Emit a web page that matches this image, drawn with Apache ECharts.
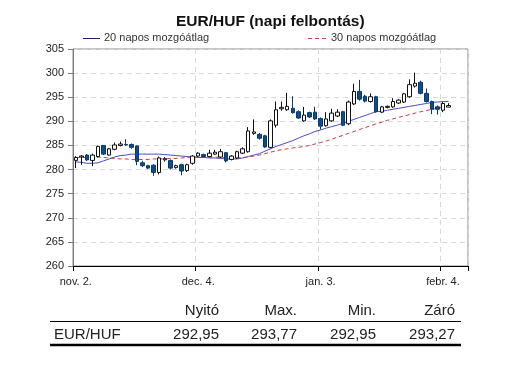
<!DOCTYPE html>
<html>
<head>
<meta charset="utf-8">
<script src="https://cdn.jsdelivr.net/npm/echarts@6/dist/echarts.min.js"></script>
<style>html,body{margin:0;padding:0;background:#fff;}#c{width:512px;height:382px;}</style>
</head>
<body>
<div id="c"></div>
<script>
// Trading days (weekdays) on the category axis, incl. empty days at the end
const dates = [
 "2012-11-02","2012-11-05","2012-11-06","2012-11-07","2012-11-08","2012-11-09",
 "2012-11-12","2012-11-13","2012-11-14","2012-11-15","2012-11-16",
 "2012-11-19","2012-11-20","2012-11-21","2012-11-22","2012-11-23",
 "2012-11-26","2012-11-27","2012-11-28","2012-11-29","2012-11-30",
 "2012-12-03","2012-12-04","2012-12-05","2012-12-06","2012-12-07",
 "2012-12-10","2012-12-11","2012-12-12","2012-12-13","2012-12-14",
 "2012-12-17","2012-12-18","2012-12-19","2012-12-20","2012-12-21",
 "2012-12-24","2012-12-25","2012-12-26","2012-12-27","2012-12-28",
 "2012-12-31","2013-01-01","2013-01-02","2013-01-03","2013-01-04",
 "2013-01-07","2013-01-08","2013-01-09","2013-01-10","2013-01-11",
 "2013-01-14","2013-01-15","2013-01-16","2013-01-17","2013-01-18",
 "2013-01-21","2013-01-22","2013-01-23","2013-01-24","2013-01-25",
 "2013-01-28","2013-01-29","2013-01-30","2013-01-31","2013-02-01",
 "2013-02-04","2013-02-05","2013-02-06","2013-02-07","2013-02-08"
];
const monthNames = ["jan.","febr.","márc.","ápr.","máj.","jún.","júl.","aug.","szept.","okt.","nov.","dec."];

const openV = [281.9,282.6,283.0,281.9,282.7,285.0,283.0,284.2,285.0,285.2,285.2,284.9,281.4,280.8,280.9,279.4,282.3,281.9,280.4,281.0,279.8,281.3,
 282.8,283.1,282.7,283.2,282.6,283.5,282.1,282.4,283.4,283.7,287.5,287.3,287.0,284.6,289.2,292.6,292.4,292.7,292.0,290.1,291.8,291.9,290.6,289.1,290.1,291.1,
 292.0,289.5,293.6,296.2,295.2,294.1,295.1,291.9,292.9,293.0,293.8,294.0,295.1,297.3,298.1,295.8,294.1,293.0,292.3,292.95];
const closeV = [282.5,282.8,282.0,283.0,284.8,283.2,284.3,285.1,285.3,285.1,284.6,281.7,280.8,280.3,279.4,282.4,282.0,280.3,280.8,279.7,281.0,282.8,
 283.4,282.7,283.4,283.6,283.7,281.8,282.8,283.7,284.3,288.0,287.8,286.5,284.7,290.1,292.4,292.9,293.1,291.8,290.7,291.3,290.9,290.5,289.0,290.5,291.7,291.9,
 289.2,294.0,296.2,294.6,294.2,295.1,292.0,293.0,293.1,294.1,294.4,295.7,297.6,297.9,295.8,294.1,292.5,292.5,293.7,293.27];
const lowV = [280.3,281.0,281.8,280.7,282.5,283.0,282.9,284.0,284.8,284.9,284.3,280.9,280.5,280.1,278.7,279.0,281.6,280.0,280.2,278.8,279.5,281.0,
 282.6,282.5,282.5,283.0,282.4,281.5,281.9,282.2,283.2,283.5,287.2,286.2,284.5,284.4,288.7,292.2,292.2,291.6,290.5,289.9,290.7,290.3,288.3,288.9,289.9,290.9,
 289.0,289.2,293.4,294.3,293.9,293.9,291.8,291.7,292.7,292.8,293.6,293.8,294.9,297.0,295.6,293.9,291.5,291.4,291.9,292.95];
const highV = [282.8,283.0,283.2,283.3,285.0,285.1,284.5,285.6,285.8,286.3,285.4,285.0,281.8,281.0,281.1,282.7,282.6,282.1,281.0,281.2,281.2,283.0,
 283.6,283.3,284.1,284.1,284.3,283.6,283.0,283.9,284.6,288.8,290.4,287.6,287.2,290.4,294.1,294.1,295.9,295.2,292.3,293.0,292.0,293.0,290.8,291.9,292.6,292.5,
 292.2,294.3,297.8,298.6,295.5,295.8,295.3,293.2,293.3,294.8,294.6,295.9,298.7,300.1,298.4,296.8,294.3,293.3,294.0,293.77];

const ma20 = [281.6,281.5,281.3,281.3,281.4,281.8,282.2,282.6,282.9,283.0,283.2,283.2,283.2,283.2,283.2,283.2,283.1,283.0,282.9,282.8,282.7,282.6,
 282.5,282.5,282.4,282.4,282.3,282.2,282.2,282.2,282.4,282.7,283.0,283.3,283.8,284.3,284.8,285.2,285.6,286.0,286.5,287.0,287.4,287.9,288.2,288.6,288.9,289.2,
 289.6,290.0,290.4,290.8,291.2,291.6,292.0,292.1,292.3,292.5,292.7,292.9,293.1,293.3,293.5,293.7,293.9,294.0,294.1,294.1];
const ma30 = [282.5,282.5,282.5,282.6,282.6,282.5,282.4,282.3,282.2,282.2,282.1,282.1,282.1,282.1,282.2,282.2,282.2,282.3,282.3,282.4,282.5,282.6,
 282.6,282.6,282.6,282.6,282.5,282.4,282.4,282.4,282.5,282.6,282.8,283.0,283.3,283.6,283.9,284.1,284.3,284.5,284.6,284.8,285.0,285.3,285.6,285.9,286.3,286.7,
 287.1,287.5,287.9,288.3,288.7,289.1,289.5,289.8,290.2,290.5,290.8,291.1,291.4,291.7,292.0,292.2,292.5,292.7,292.9,293.1];

const seriesNames = ["20 napos mozgóátlag","30 napos mozgóátlag"];
const yTicks = {min:260, max:305, step:5};

// Summary table
const tableHeaders = ["Nyitó","Max.","Min.","Záró"];
const tableRowLabel = "EUR/HUF";
const tableValues = ["292,95","293,77","292,95","293,27"];

const candleData = openV.map((o,i)=>[o, closeV[i], lowV[i], highV[i]]);

const FONT = '"Liberation Sans", Arial, sans-serif';
const MA20_COLOR = '#4a4ac8', MA30_COLOR = '#d03a3a';
const colX = [219, 297, 376, 455];
const graphics = [];
// legend (drawn as graphic so the icons are plain lines)
graphics.push({type:'line', shape:{x1:83,y1:38.5,x2:100,y2:38.5}, style:{stroke:'#1e1e78', lineWidth:1}});
graphics.push({type:'text', x:104, y:38, style:{text:seriesNames[0], font:'11px '+FONT, fill:'#333', textAlign:'left', textVerticalAlign:'middle'}});
graphics.push({type:'line', shape:{x1:308,y1:38.5,x2:328,y2:38.5}, style:{stroke:MA30_COLOR, lineWidth:1, lineDash:[4,3]}});
graphics.push({type:'text', x:331, y:38, style:{text:seriesNames[1], font:'11px '+FONT, fill:'#333', textAlign:'left', textVerticalAlign:'middle'}});
// table
tableHeaders.forEach((h,i)=>graphics.push({type:'text', x:colX[i], y:311, style:{text:h, font:'15px '+FONT, fill:'#222', textAlign:'right', textVerticalAlign:'middle'}}));
graphics.push({type:'text', x:54, y:335, style:{text:tableRowLabel, font:'15px '+FONT, fill:'#222', textAlign:'left', textVerticalAlign:'middle'}});
tableValues.forEach((v,i)=>graphics.push({type:'text', x:colX[i], y:335, style:{text:v, font:'15px '+FONT, fill:'#222', textAlign:'right', textVerticalAlign:'middle'}}));
graphics.push({type:'line', shape:{x1:50,y1:321.5,x2:461,y2:321.5}, style:{stroke:'#000', lineWidth:1}});
graphics.push({type:'line', shape:{x1:50,y1:345,x2:461,y2:345}, style:{stroke:'#000', lineWidth:2.5}});

const chart = echarts.init(document.getElementById('c'), null, {renderer:'canvas'});
chart.setOption({
  backgroundColor:'#fff',
  animation:false,
  title:{text:'EUR/HUF (napi felbontás)', left:171, top:9, textStyle:{fontFamily:FONT, fontSize:15.5, fontWeight:'bold', color:'#111'}},
  grid:{left:73, right:44, top:49, bottom:116, show:true, borderColor:'#8a8a8a', borderWidth:1, containLabel:false},
  xAxis:{
    type:'category', data:dates, boundaryGap:true,
    axisLine:{lineStyle:{color:'#000', width:1}},
    axisTick:{show:true, interval:21, length:5, lineStyle:{color:'#000'}},
    splitLine:{show:true, interval:21, lineStyle:{color:'#d8d8d8', type:[5,4]}},
    axisLabel:{interval:21, margin:10, fontFamily:FONT, fontSize:11, color:'#222',
      formatter:function(v){const p=v.split('-');return monthNames[parseInt(p[1],10)-1]+' '+parseInt(p[2],10)+'.';}}
  },
  yAxis:{
    type:'value', min:yTicks.min, max:yTicks.max, interval:yTicks.step, scale:false,
    axisLine:{show:true, lineStyle:{color:'#7a7a7a'}},
    axisTick:{show:true, length:5, lineStyle:{color:'#7a7a7a'}},
    splitLine:{show:true, lineStyle:{color:'#d8d8d8', type:[5,4]}},
    axisLabel:{margin:9, fontFamily:FONT, fontSize:11, color:'#222'}
  },
  series:[
    {name:seriesNames[0], type:'line', data:ma20, showSymbol:false, symbol:'none', smooth:false,
     lineStyle:{color:MA20_COLOR, width:1}, itemStyle:{color:MA20_COLOR}, z:2},
    {name:seriesNames[1], type:'line', data:ma30, showSymbol:false, symbol:'none', smooth:false,
     lineStyle:{color:MA30_COLOR, width:1, type:[4,3]}, itemStyle:{color:MA30_COLOR}, z:2},
    {name:'EUR/HUF', type:'candlestick', data:candleData, barWidth:4, z:3,
     itemStyle:{color:'#ffffff', color0:'#0d4d8c', borderColor:'#111', borderColor0:'#0a3a6a', borderWidth:1}}
  ],
  graphic:graphics
});
</script>
</body>
</html>
